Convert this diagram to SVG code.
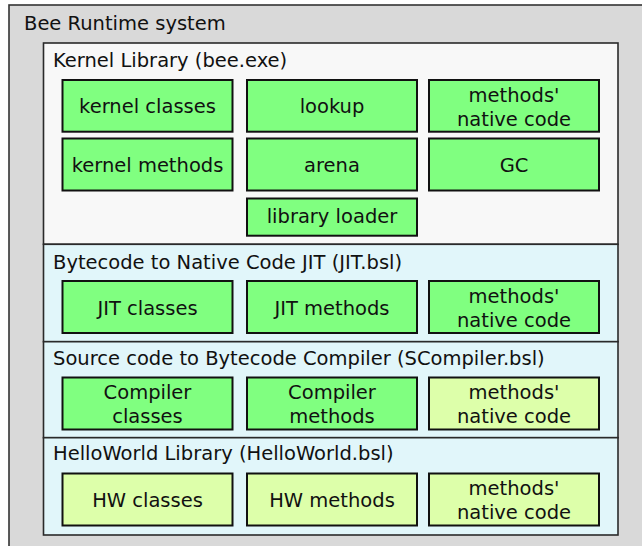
<svg xmlns="http://www.w3.org/2000/svg" width="642" height="546" viewBox="0 0 642 546">
<style>
text{font-family:"DejaVu Sans","Liberation Sans",sans-serif;font-size:19.5px;fill:#111}
.c{text-anchor:middle}
.panel{stroke:#2a2a2a;stroke-width:1.6}
.box{stroke:#111;stroke-width:2}
.g{fill:#80ff80}
.y{fill:#ddffaa}
</style>
<rect x="9" y="5" width="700" height="600" fill="#d9d9d9" stroke="#333" stroke-width="1.6"/>
<text x="24" y="30">Bee Runtime system</text>

<g id="kernel">
<rect class="panel" x="43.5" y="43" width="574.5" height="201.3" fill="#f8f8f8"/>
<text x="53" y="66.7">Kernel Library (bee.exe)</text>
</g>
<g id="jit">
<rect class="panel" x="43.5" y="244.3" width="574.5" height="97.4" fill="#e1f6fa"/>
<text x="53" y="269">Bytecode to Native Code JIT (JIT.bsl)</text>
</g>
<g id="compiler">
<rect class="panel" x="43.5" y="341.7" width="574.5" height="96" fill="#e1f6fa"/>
<text x="53" y="364.5">Source code to Bytecode Compiler (SCompiler.bsl)</text>
</g>
<g id="hello">
<rect class="panel" x="43.5" y="437.7" width="574.5" height="97.3" fill="#e1f6fa"/>
<text x="53" y="460">HelloWorld Library (HelloWorld.bsl)</text>
</g>

<g id="kernel-classes"><rect class="box g" x="62.5" y="80" width="170" height="51.7"/><text class="c" x="147.5" y="112.7">kernel classes</text></g>
<g id="lookup"><rect class="box g" x="247" y="80" width="170" height="51.7"/><text class="c" x="332" y="112.7">lookup</text></g>
<g id="kernel-native"><rect class="box g" x="429" y="80" width="170" height="51.7"/><text class="c" x="514" y="101.7">methods'</text><text class="c" x="514" y="125.7">native code</text></g>

<g id="kernel-methods"><rect class="box g" x="62.5" y="138.5" width="170" height="52"/><text class="c" x="147.5" y="171.5">kernel methods</text></g>
<g id="arena"><rect class="box g" x="247" y="138.5" width="170" height="52"/><text class="c" x="332" y="171.5">arena</text></g>
<g id="gc"><rect class="box g" x="429" y="138.5" width="170" height="52"/><text class="c" x="514" y="171.5">GC</text></g>

<g id="library-loader"><rect class="box g" x="247" y="198.5" width="170" height="37.2"/><text class="c" x="332" y="223.3">library loader</text></g>

<g id="jit-classes"><rect class="box g" x="62.5" y="281" width="170" height="52"/><text class="c" x="147.5" y="314.5">JIT classes</text></g>
<g id="jit-methods"><rect class="box g" x="247" y="281" width="170" height="52"/><text class="c" x="332" y="314.5">JIT methods</text></g>
<g id="jit-native"><rect class="box g" x="429" y="281" width="170" height="52"/><text class="c" x="514" y="302.5">methods'</text><text class="c" x="514" y="326.5">native code</text></g>

<g id="compiler-classes"><rect class="box g" x="62.5" y="377.5" width="170" height="52"/><text class="c" x="147.5" y="399.3">Compiler</text><text class="c" x="147.5" y="423">classes</text></g>
<g id="compiler-methods"><rect class="box g" x="247" y="377.5" width="170" height="52"/><text class="c" x="332" y="399.3">Compiler</text><text class="c" x="332" y="423">methods</text></g>
<g id="compiler-native"><rect class="box y" x="429" y="377.5" width="170" height="52"/><text class="c" x="514" y="399.3">methods'</text><text class="c" x="514" y="423">native code</text></g>

<g id="hw-classes"><rect class="box y" x="62.5" y="473.5" width="170" height="52"/><text class="c" x="147.5" y="507">HW classes</text></g>
<g id="hw-methods"><rect class="box y" x="247" y="473.5" width="170" height="52"/><text class="c" x="332" y="507">HW methods</text></g>
<g id="hw-native"><rect class="box y" x="429" y="473.5" width="170" height="52"/><text class="c" x="514" y="495">methods'</text><text class="c" x="514" y="519">native code</text></g>

<g id="connectors"></g>
</svg>
